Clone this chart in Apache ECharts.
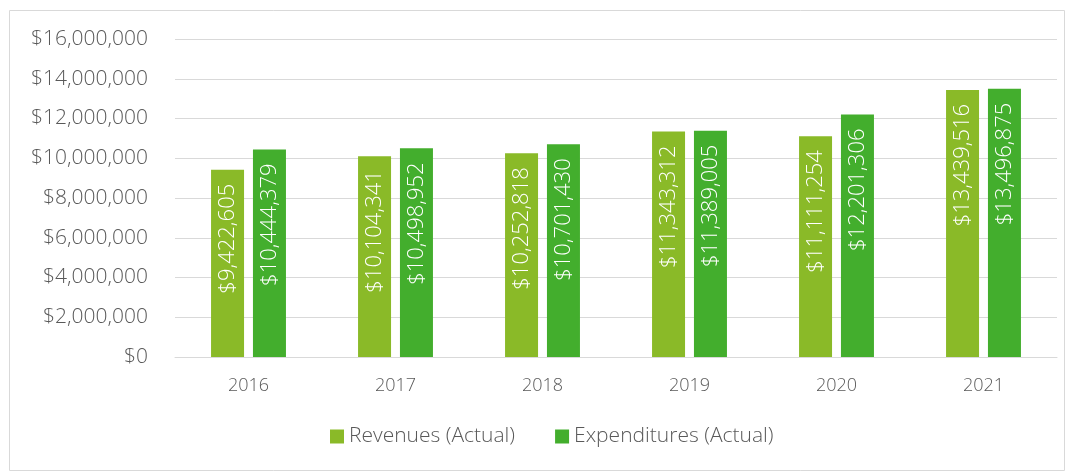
<html>
<head>
    <meta charset="utf-8">
    <title>Revenues vs Expenditures</title>
    <script src="https://cdn.jsdelivr.net/npm/echarts@6.0.0/dist/echarts.min.js"></script>
    <style>
        body { margin: 0; background: #fff; }
        #main { width: 1074px; height: 476px; }
    </style>
</head>
<body>
<div id="main"></div>
<script>
    var years = ['2016', '2017', '2018', '2019', '2020', '2021']
    var revenues = [9422605, 10104341, 10252818, 11343312, 11111254, 13439516]
    var expenditures = [10444379, 10498952, 10701430, 11389005, 12201306, 13496875]

    var font = '"Open Sans", "Noto Sans", sans-serif'

    function money (v) {
        return '$' + v.toLocaleString('en-US')
    }

    var barLabel = {
        show: true,
        position: 'insideTop',
        rotate: 90,
        align: 'right',
        verticalAlign: 'middle',
        distance: 14,
        color: '#fff',
        fontFamily: font,
        fontWeight: 300,
        fontSize: 22,
        formatter: function (p) { return money(p.value) }
    }

    var myChart = echarts.init(document.getElementById('main'))

    myChart.setOption({
        animation: false,
        graphic: [{
            type: 'rect',
            shape: { x: 9.5, y: 10.5, width: 1055, height: 460 },
            style: { fill: 'none', stroke: '#d9d9d9', lineWidth: 1 },
            silent: true
        }],
        grid: { left: 175, right: 17, top: 39, bottom: 119 },
        legend: {
            bottom: 24,
            left: 325,
            itemWidth: 14,
            itemHeight: 14,
            itemGap: 40,
            icon: 'rect',
            textStyle: { color: '#595959', fontFamily: font, fontWeight: 300, fontSize: 21 }
        },
        xAxis: {
            type: 'category',
            data: years,
            axisLine: { lineStyle: { color: '#d9d9d9' } },
            axisTick: { show: false },
            axisLabel: { color: '#595959', fontFamily: font, fontWeight: 300, fontSize: 18, margin: 20 }
        },
        yAxis: {
            type: 'value',
            min: 0,
            max: 16000000,
            interval: 2000000,
            axisLine: { show: false },
            axisTick: { show: false },
            splitLine: { lineStyle: { color: '#d9d9d9', width: 1 } },
            axisLabel: {
                color: '#595959', fontFamily: font, fontWeight: 300, fontSize: 21, margin: 27,
                formatter: function (v) { return money(v) }
            }
        },
        series: [
            {
                name: 'Revenues (Actual)',
                type: 'bar',
                data: revenues,
                barWidth: 33,
                barGap: '27%',
                itemStyle: { color: '#8aba28' },
                label: barLabel
            },
            {
                name: 'Expenditures (Actual)',
                type: 'bar',
                data: expenditures,
                barWidth: 33,
                itemStyle: { color: '#43ae2d' },
                label: barLabel
            }
        ]
    })
</script>
</body>
</html>
